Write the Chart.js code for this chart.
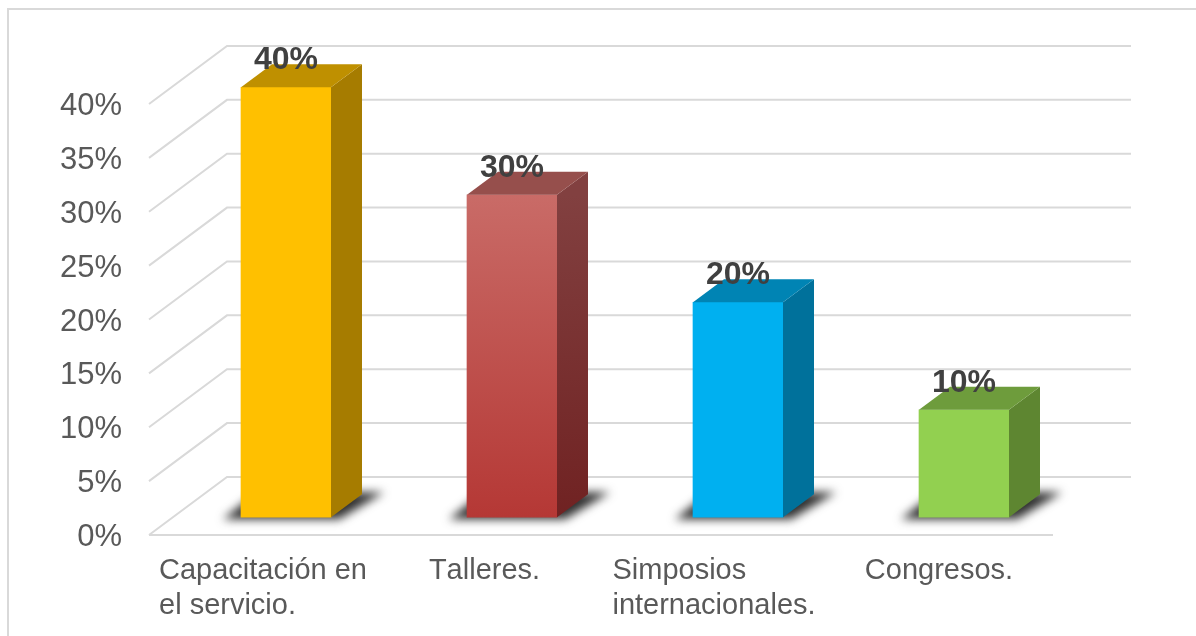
<!DOCTYPE html>
<html>
<head>
<meta charset="utf-8">
<script src="https://cdn.jsdelivr.net/npm/chart.js@4/dist/chart.umd.min.js"></script>
<style>
  html, body { margin: 0; padding: 0; background: #fff; overflow: hidden; }
  #frame { position: absolute; left: 7px; top: 8px; width: 1200px; height: 700px; border: 2px solid #d9d9d9; }
  #myChart { position: absolute; left: 0; top: 0; }
</style>
</head>
<body>
<div id="frame"></div>
<canvas id="myChart" width="1196" height="636"></canvas>
<script>
const categories = [
  ["Capacitación en", "el servicio."],
  ["Talleres."],
  ["Simposios", "internacionales."],
  ["Congresos."],
];
const values = [40, 30, 20, 10];
const yTickValues = [0, 5, 10, 15, 20, 25, 30, 35, 40];

const frontColors = ["#FFC000", ["#C96B67", "#B53835"], "#00B0F0", "#92D050"];
const sideColors = ["#A67C00", ["#824040", "#702222"], "#00719B", "#5E8631"];
const topColors = ["#BF9000", "#964F4C", "#0084B4", "#6E9C3C"];

// depth of the fake 3d box, in px
const barDepthX = 31;
const barDepthY = 23;
// bars stand this far right of the front edge of the floor
const floorX = 24;
// back wall offset from the front edge
const wallX = 78;
const wallY = 58;
// tick text sits a bit low against its gridline
const tickDrop = 2.5;
// small per label correction, px
const labelNudge = [1, -3.5, 0, -1];

function paint(ctx, color, top, bottom) {
  if (!Array.isArray(color)) return color;
  const g = ctx.createLinearGradient(0, top, 0, bottom);
  g.addColorStop(0, color[0]);
  g.addColorStop(1, color[1]);
  return g;
}

const box3d = {
  id: "box3d",
  beforeDatasetsDraw(chart) {
    const { ctx, scales } = chart;
    const left = chart.chartArea.left - floorX;
    const right = chart.chartArea.right - floorX;

    // walls and floor
    ctx.save();
    ctx.strokeStyle = "#d9d9d9";
    ctx.lineWidth = 2;
    yTickValues.forEach((v) => {
      const y = scales.y.getPixelForValue(v) - tickDrop;
      ctx.beginPath();
      ctx.moveTo(left, y);
      ctx.lineTo(left + wallX, y - wallY);
      ctx.lineTo(right + wallX, y - wallY);
      ctx.stroke();
    });
    const y0 = scales.y.getPixelForValue(0) - tickDrop;
    ctx.beginPath();
    ctx.moveTo(left, y0);
    ctx.lineTo(right, y0);
    ctx.stroke();
    ctx.restore();

    // floor shadows
    chart.getDatasetMeta(0).data.forEach((bar) => {
      const l = bar.x - bar.width / 2;
      const r = bar.x + bar.width / 2;
      const b = bar.base;
      ctx.save();
      ctx.filter = "blur(5px)";
      ctx.fillStyle = "#303030";
      ctx.beginPath();
      ctx.moveTo(l - 18, b + 2);
      ctx.lineTo(r + 8, b + 2);
      ctx.lineTo(r + barDepthX + 22, b - barDepthY - 2);
      ctx.lineTo(l + 16, b - barDepthY - 2);
      ctx.closePath();
      ctx.fill();
      ctx.restore();
    });
  },
  afterDatasetsDraw(chart) {
    const { ctx, scales } = chart;
    chart.getDatasetMeta(0).data.forEach((bar, i) => {
      const l = bar.x - bar.width / 2;
      const r = bar.x + bar.width / 2;
      const t = bar.y;
      const b = bar.base;

      // side face
      ctx.fillStyle = paint(ctx, sideColors[i], t, b);
      ctx.beginPath();
      ctx.moveTo(r, t);
      ctx.lineTo(r + barDepthX, t - barDepthY);
      ctx.lineTo(r + barDepthX, b - barDepthY);
      ctx.lineTo(r, b);
      ctx.closePath();
      ctx.fill();

      // top face
      ctx.fillStyle = topColors[i];
      ctx.beginPath();
      ctx.moveTo(l, t);
      ctx.lineTo(l + barDepthX, t - barDepthY);
      ctx.lineTo(r + barDepthX, t - barDepthY);
      ctx.lineTo(r, t);
      ctx.closePath();
      ctx.fill();

      // value on top of the bar
      ctx.fillStyle = "#404040";
      ctx.font = "bold 32px 'Liberation Sans'";
      ctx.textAlign = "center";
      ctx.textBaseline = "middle";
      ctx.fillText(values[i] + "%", bar.x, t - 27);
    });

    // category labels, wrapped and left aligned like the original
    ctx.save();
    ctx.fillStyle = "#595959";
    ctx.font = "29px 'Liberation Sans'";
    ctx.fontKerning = "none";
    ctx.textAlign = "left";
    ctx.textBaseline = "middle";
    categories.forEach((lines, i) => {
      const widest = Math.max(...lines.map((s) => ctx.measureText(s).width));
      const x = scales.x.getPixelForValue(i) - floorX - widest / 2 + labelNudge[i];
      lines.forEach((s, n) => {
        ctx.fillText(s, x, chart.chartArea.bottom + 33.5 + n * 35);
      });
    });
    ctx.restore();
  },
};

const ctx = document.getElementById("myChart");
const myChart = new Chart(ctx, {
  type: "bar",
  plugins: [box3d],
  data: {
    labels: categories,
    datasets: [
      {
        data: values,
        yAxisID: "yBar",
        backgroundColor: (c) => {
          const { ctx: g, chartArea } = c.chart;
          if (!chartArea) return "#999";
          const top = c.chart.scales.yBar.getPixelForValue(values[c.dataIndex]);
          const bottom = c.chart.scales.yBar.getPixelForValue(0);
          return paint(g, frontColors[c.dataIndex], top, bottom);
        },
        barThickness: 90,
      },
    ],
  },
  options: {
    responsive: false,
    animation: false,
    layout: { padding: { top: 46, right: 119, left: 0, bottom: 0 } },
    plugins: { legend: { display: false }, tooltip: { enabled: false }, title: { display: false } },
    scales: {
      x: {
        grid: { display: false },
        border: { display: false },
        ticks: { display: false },
        afterFit: (s) => { s.height = 98.5; s.paddingLeft = 0; s.paddingRight = 0; },
      },
      // labels sit on the front edge of the floor
      y: {
        min: 0,
        max: 45.61,
        grid: { display: false, drawTicks: false },
        border: { display: false },
        afterBuildTicks: (s) => { s.ticks = yTickValues.map((v) => ({ value: v })); },
        afterFit: (s) => { s.width = 173; s.paddingTop = 0; s.paddingBottom = 0; },
        ticks: {
          padding: 51,
          color: "#595959",
          font: { family: "'Liberation Sans'", size: 31 },
          callback: (v) => v + "%",
        },
      },
      // bars stand further back, so they get their own offset axis
      yBar: {
        display: false,
        min: -1.88,
        max: 43.84,
      },
    },
  },
});
</script>
</body>
</html>
